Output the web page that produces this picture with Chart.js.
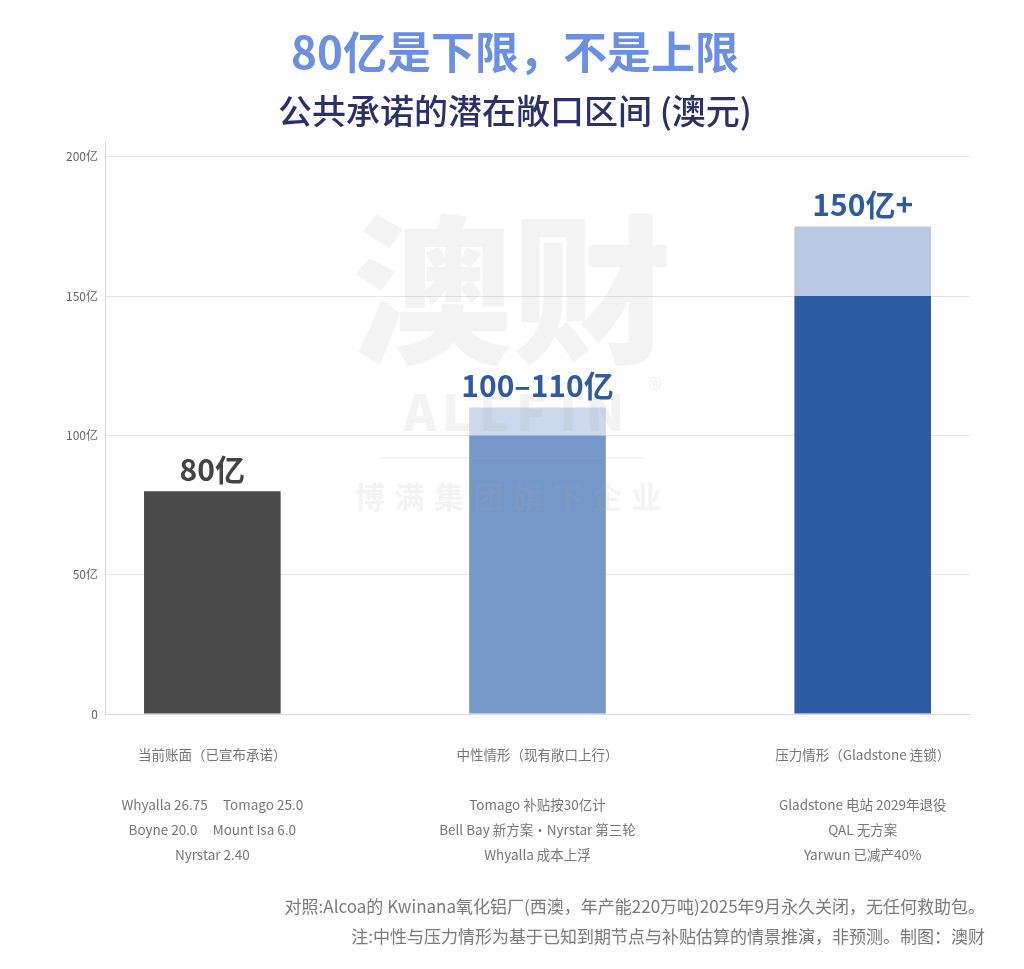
<!DOCTYPE html>
<html lang="zh-CN">
<head>
<meta charset="utf-8">
<title>80亿是下限，不是上限</title>
<script src="https://cdn.jsdelivr.net/npm/chart.js@4.4.1/dist/chart.umd.min.js"></script>
<style>
  html, body { margin: 0; padding: 0; background: #fff; }
  canvas { display: block; }
</style>
</head>
<body>
<canvas id="chart" width="1024" height="969"></canvas>
<script>
// 数据
const categories = ['当前账面（已宣布承诺）', '中性情形（现有敞口上行）', '压力情形（Gladstone 连锁）'];
const baseValues = [80, 100, 150];   // 已确定部分
const rangeValues = [0, 10, 25];     // 区间上沿增量
const valueLabels = ['80亿', '100–110亿', '150亿+'];
const notes = [
  ['Whyalla 26.75     Tomago 25.0', 'Boyne 20.0     Mount Isa 6.0', 'Nyrstar 2.40'],
  ['Tomago 补贴按30亿计', 'Bell Bay 新方案・Nyrstar 第三轮', 'Whyalla 成本上浮'],
  ['Gladstone 电站 2029年退役', 'QAL 无方案', 'Yarwun 已减产40%']
];
const yTicks = [0, 50, 100, 150, 200];
const footnotes = [
  '对照:Alcoa的 Kwinana氧化铝厂(西澳，年产能220万吨)2025年9月永久关闭，无任何救助包。',
  '注:中性与压力情形为基于已知到期节点与补贴估算的情景推演，非预测。制图：澳财'
];

const baseColors = ['#4a4a4a', '#7598c9', '#2e5ca4'];
const rangeColors = ['#4a4a4a', '#ccd8ee', '#b9c9e3'];
const labelColors = ['#444444', '#2d5aa0', '#2d5aa0'];

const FONT = '"Noto Sans CJK SC", "Noto Sans", sans-serif';
Chart.defaults.font.family = FONT;

// 水印
const watermarkPlugin = {
  id: 'watermark',
  afterDatasetsDraw(chart) {
    const { ctx } = chart;
    const cx = chart.width / 2;
    ctx.save();
    ctx.fillStyle = 'rgba(170,170,170,0.14)';
    ctx.strokeStyle = 'rgba(170,170,170,0.14)';
    ctx.textAlign = 'center';
    ctx.textBaseline = 'middle';
    ctx.font = `900 160px ${FONT}`;
    ctx.fillText('澳财', cx, 290);
    ctx.font = `900 50px ${FONT}`;
    'ALLFIN'.split('').forEach((ch, i) => {
      ctx.fillText(ch, cx - 92 + i * 37, 412);
    });
    ctx.font = `30px ${FONT}`;
    ctx.fillText('®', cx + 143, 390);
    ctx.lineWidth = 2;
    ctx.beginPath();
    ctx.moveTo(cx - 132, 458);
    ctx.lineTo(cx + 133, 458);
    ctx.stroke();
    ctx.font = `bold 30px ${FONT}`;
    '博满集团旗下企业'.split('').forEach((ch, i) => {
      ctx.fillText(ch, cx - 142 + i * 39.5, 497);
    });
    ctx.restore();
  }
};

// 柱顶标签
const valueLabelPlugin = {
  id: 'valueLabels',
  afterDatasetsDraw(chart) {
    const { ctx } = chart;
    const topMeta = chart.getDatasetMeta(1);
    ctx.save();
    ctx.font = `bold 30px ${FONT}`;
    ctx.textAlign = 'center';
    ctx.textBaseline = 'middle';
    topMeta.data.forEach((bar, i) => {
      ctx.fillStyle = labelColors[i];
      ctx.fillText(valueLabels[i], bar.x, bar.y - 22);
    });
    ctx.restore();
  }
};

// 脚注
const footnotePlugin = {
  id: 'footnotes',
  afterDraw(chart) {
    const { ctx } = chart;
    ctx.save();
    ctx.font = `17px ${FONT}`;
    ctx.fillStyle = '#7a7a7a';
    ctx.textAlign = 'right';
    ctx.textBaseline = 'middle';
    footnotes.forEach((t, i) => {
      ctx.fillText(t, chart.width - 39, chart.height - 62 + i * 30);
    });
    ctx.restore();
  }
};

new Chart('chart', {
  type: 'bar',
  data: {
    datasets: [
      {
        label: '已确定',
        data: baseValues.map((v, i) => ({ x: i, y: v })),
        backgroundColor: baseColors
      },
      {
        label: '区间上沿',
        data: rangeValues.map((v, i) => ({ x: i, y: v })),
        backgroundColor: rangeColors
      }
    ]
  },
  options: {
    responsive: false,
    animation: false,
    datasets: { bar: { categoryPercentage: 1, barPercentage: 0.42 } },
    layout: { padding: { left: 60, right: 54, bottom: 95 } },
    plugins: {
      legend: { display: false },
      tooltip: { enabled: false },
      title: {
        display: true,
        text: '80亿是下限，不是上限',
        color: '#6a8fe3',
        font: { size: 44, weight: 'bold', lineHeight: 1.2 },
        padding: { top: 26, bottom: 0 }
      },
      subtitle: {
        display: true,
        text: '公共承诺的潜在敞口区间 (澳元)',
        color: '#2b2f6b',
        font: { size: 34, weight: '500', lineHeight: 1.15 },
        padding: { top: 13, bottom: 12 }
      }
    },
    scales: {
      x: {
        type: 'linear',
        offset: false,
        min: -0.33,
        max: 2.33,
        stacked: true,
        afterBuildTicks: (axis) => { axis.ticks = categories.map((c, i) => ({ value: i })); },
        afterFit: (scale) => { scale.height = 160; },
        grid: { color: 'transparent', drawTicks: false, offset: false },
        border: { color: '#dcdcdc' },
        ticks: {
          autoSkip: false,
          maxRotation: 0,
          padding: 28,
          color: '#777',
          font: { size: 13.5, lineHeight: 25 / 13.5 },
          callback: (v) => [categories[v], '', ...notes[v]]
        }
      },
      y: {
        min: 0,
        max: 205,
        stacked: true,
        afterBuildTicks: (axis) => { axis.ticks = yTicks.map((v) => ({ value: v })); },
        afterFit: (scale) => { scale.width = 45; },
        grid: { color: '#e6e6e6', drawTicks: false },
        border: { color: '#d6d6d6' },
        ticks: {
          padding: 7,
          color: '#666',
          font: { size: 12 },
          callback: (v) => (v === 0 ? '0' : v + '亿')
        }
      }
    }
  },
  plugins: [watermarkPlugin, valueLabelPlugin, footnotePlugin]
});
</script>
</body>
</html>
